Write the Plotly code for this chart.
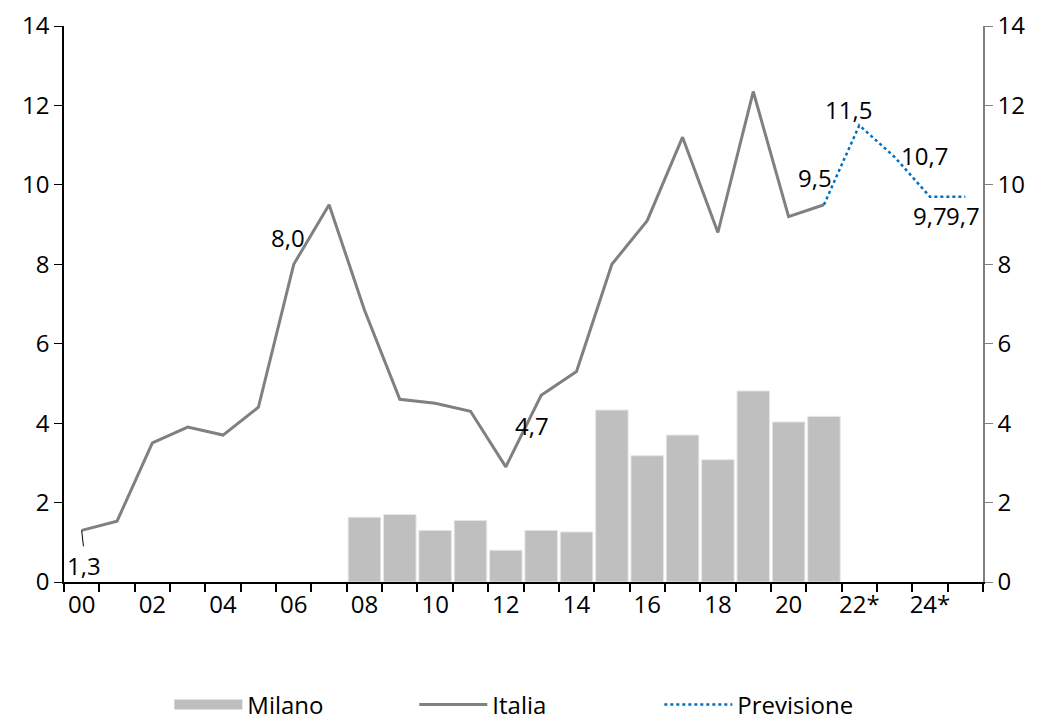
import plotly.graph_objects as go

years = [f"{i:02d}" for i in range(26)]
tick_text = ["00", "", "02", "", "04", "", "06", "", "08", "", "10", "", "12", "",
             "14", "", "16", "", "18", "", "20", "", "22*", "", "24*", ""]

italia_years = years[:22]
italia = [1.3, 1.53, 3.5, 3.9, 3.7, 4.4, 8.0, 9.5, 6.85, 4.6, 4.5, 4.3, 2.9, 4.7,
          5.3, 8.0, 9.1, 11.2, 8.8, 12.35, 9.2, 9.5]

milano_years = years[8:22]
milano = [1.63, 1.70, 1.30, 1.55, 0.80, 1.30, 1.26, 4.33, 3.18, 3.70, 3.08, 4.81, 4.03, 4.17]

prev_years = years[21:]
previsione = [9.5, 11.5, 10.7, 9.7, 9.7]

# labelled points: (year, value, text, xshift, yshift)
labels = [
    ("00", 1.3, "1,3", 2, -35),
    ("06", 8.0, "8,0", -6, 27),
    ("13", 4.7, "4,7", -9, -30),
    ("21", 9.5, "9,5", -9, 27),
    ("22", 11.5, "11,5", -11, 16),
    ("23", 10.7, "10,7", 30, 2),
    ("24", 9.7, "9,7", 0, -19),
    ("25", 9.7, "9,7", -2, -19),
]

FONT = "Open Sans"
FS = 24
fig = go.Figure()
fig.add_trace(go.Bar(x=milano_years, y=milano, name="Milano", showlegend=False,
                     marker=dict(color="#bfbfbf", line=dict(color="#e6e6e6", width=1))))
# legend swatch for Milano (wide gray block like the reference)
fig.add_trace(go.Scatter(x=[None], y=[None], name="Milano", mode="lines",
                         line=dict(color="#bfbfbf", width=15)))
fig.add_trace(go.Scatter(x=italia_years, y=italia, name="Italia", mode="lines",
                         line=dict(color="#808080", width=3)))
fig.add_trace(go.Scatter(x=prev_years, y=previsione, name="Previsione", mode="lines",
                         line=dict(color="#0070c0", width=2.5, dash="dot")))
# invisible trace to activate right axis
fig.add_trace(go.Scatter(x=[years[0]], y=[0], yaxis="y2", showlegend=False,
                         mode="markers", marker=dict(opacity=0), hoverinfo="skip"))

for yr, v, t, xs, ys in labels:
    fig.add_annotation(x=yr, y=v, text=t, showarrow=False, xshift=xs, yshift=ys,
                       font=dict(size=FS, color="black", family=FONT))
# leader line for 1,3
fig.add_shape(type="line", x0=0, x1=0.05, y0=1.3, y1=0.9, xref="x", yref="y",
              line=dict(color="black", width=1))

fig.update_layout(
    width=1041, height=723,
    margin=dict(l=56, r=66, t=18, b=149),
    plot_bgcolor="white", paper_bgcolor="white",
    font=dict(family=FONT, size=FS, color="black"),
    bargap=0.08,
    xaxis=dict(type="category", categoryorder="array", categoryarray=years,
               tickvals=years, ticktext=tick_text, tickson="boundaries",
               ticks="outside", ticklen=8, tickcolor="black", tickwidth=2,
               tickangle=0, tickfont=dict(size=FS),
               showline=True, linecolor="black", linewidth=2, showgrid=False,
               range=[-0.5, 25.5], automargin=False),
    yaxis=dict(range=[0, 14], dtick=2, ticks="outside", ticklen=8, tickcolor="black",
               tickfont=dict(size=FS), ticklabeloverflow="allow",
               showline=True, linecolor="black", linewidth=1.5, showgrid=False,
               zeroline=False, automargin=False),
    yaxis2=dict(range=[0, 14], dtick=2, ticks="outside", ticklen=8, tickcolor="#808080",
                tickfont=dict(size=FS), ticklabeloverflow="allow",
                showline=True, linecolor="#808080", linewidth=1.5, showgrid=False,
                zeroline=False, overlaying="y", side="right", automargin=False),
    legend=dict(orientation="h", x=0.508, xanchor="center", xref="container",
                y=0.036, yanchor="middle", yref="container",
                entrywidth=162, entrywidthmode="pixels", itemwidth=68,
                font=dict(size=FS, family=FONT)),
)
fig.write_html("out.html")
